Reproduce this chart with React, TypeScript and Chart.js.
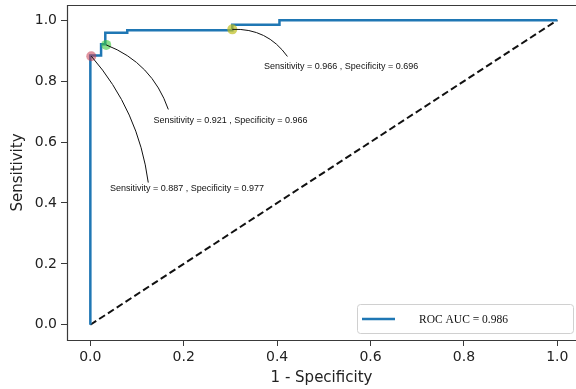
import React, { useEffect, useRef } from "react";
import { Chart, registerables } from "chart.js";

Chart.register(...registerables);

// ROC curve (false positive rate = 1 - specificity, true positive rate = sensitivity)
const fpr = [0, 0, 0.023, 0.023, 0.032, 0.032, 0.079, 0.079, 0.304, 0.304, 0.405, 0.405, 1];
const tpr = [0, 0.884, 0.884, 0.921, 0.921, 0.959, 0.959, 0.967, 0.967, 0.985, 0.985, 1, 1];
const rocLabel = "ROC AUC = 0.986";

// chance diagonal
const chanceX = [0, 1];
const chanceY = [0, 1];

// axis ticks
const xTicks = [0, 0.2, 0.4, 0.6, 0.8, 1.0];
const yTicks = [0, 0.2, 0.4, 0.6, 0.8, 1.0];

// highlighted operating points
const markerX = [0.002, 0.034, 0.304];
const markerY = [0.882, 0.919, 0.97];
const markerColors = ["rgba(200,60,80,0.55)", "rgba(60,200,60,0.6)", "rgba(190,190,30,0.7)"];

// annotations
const noteTexts = [
  "Sensitivity = 0.887 , Specificity = 0.977",
  "Sensitivity = 0.921 , Specificity = 0.966",
  "Sensitivity = 0.966 , Specificity = 0.696",
];
const noteTextX = [0.207, 0.3, 0.537];
const noteTextY = [0.447, 0.67, 0.849];
const noteEndX = [0.124, 0.167, 0.422];
const noteEndY = [0.467, 0.707, 0.881];
const noteRad = [0.15, 0.23, 0.27];

const frameColor = "#3a3a3a";
const textColor = "#222";

const framePlugin = {
  id: "frame",
  beforeDatasetsDraw(chart: any) {
    const { ctx, chartArea: a } = chart;
    ctx.save();
    ctx.strokeStyle = frameColor;
    ctx.lineWidth = 1.2;
    ctx.beginPath();
    ctx.moveTo(a.right + 2, a.top + 0.5);
    ctx.lineTo(a.left + 0.5, a.top + 0.5);
    ctx.lineTo(a.left + 0.5, a.bottom + 0.5);
    ctx.lineTo(a.right + 2, a.bottom + 0.5);
    ctx.stroke();
    ctx.restore();
  },
};

const notesPlugin = {
  id: "notes",
  afterDatasetsDraw(chart: any) {
    const { ctx } = chart;
    const xs = chart.scales.x;
    const ys = chart.scales.y;
    ctx.save();
    ctx.strokeStyle = "#111";
    ctx.lineWidth = 1;
    for (let i = 0; i < noteTexts.length; i++) {
      const x1 = xs.getPixelForValue(markerX[i]);
      const y1 = ys.getPixelForValue(markerY[i]);
      const x2 = xs.getPixelForValue(noteEndX[i]);
      const y2 = ys.getPixelForValue(noteEndY[i]);
      const dx = x2 - x1;
      const dy = y2 - y1;
      const cx = (x1 + x2) / 2 + noteRad[i] * dy;
      const cy = (y1 + y2) / 2 - noteRad[i] * dx;
      ctx.beginPath();
      ctx.moveTo(x1, y1);
      ctx.quadraticCurveTo(cx, cy, x2, y2);
      ctx.stroke();
    }
    ctx.fillStyle = "#111";
    ctx.font = '9px "Liberation Sans", Arial, sans-serif';
    ctx.textAlign = "center";
    ctx.textBaseline = "middle";
    for (let i = 0; i < noteTexts.length; i++) {
      ctx.fillText(noteTexts[i], xs.getPixelForValue(noteTextX[i]), ys.getPixelForValue(noteTextY[i]));
    }
    ctx.restore();
  },
};

const legendPlugin = {
  id: "boxLegend",
  afterDraw(chart: any) {
    const { ctx, chartArea: a } = chart;
    const ds = chart.data.datasets[0];
    const right = a.right - 3;
    const bottom = a.bottom - 7;
    const w = 216;
    const h = 29;
    const left = right - w;
    const top = bottom - h;
    ctx.save();
    ctx.fillStyle = "rgba(255,255,255,0.9)";
    ctx.strokeStyle = "#d0d0d0";
    ctx.lineWidth = 1;
    ctx.beginPath();
    (ctx as any).roundRect(left + 0.5, top + 0.5, w, h, 3);
    ctx.fill();
    ctx.stroke();
    ctx.strokeStyle = ds.borderColor;
    ctx.lineWidth = ds.borderWidth;
    ctx.beginPath();
    ctx.moveTo(left + 5, top + h / 2 + 0.5);
    ctx.lineTo(left + 38, top + h / 2 + 0.5);
    ctx.stroke();
    ctx.fillStyle = "#111";
    ctx.font = '11.5px "Liberation Serif", "Times New Roman", serif';
    ctx.textAlign = "left";
    ctx.textBaseline = "middle";
    ctx.fillText(ds.label, left + 62, top + h / 2 + 1);
    ctx.restore();
  },
};

export default function App() {
  const ref = useRef<HTMLCanvasElement | null>(null);

  useEffect(() => {
    if (!ref.current) return;
    const tickFont = { family: '"DejaVu Sans", sans-serif', size: 14 };
    const titleFont = { family: '"DejaVu Sans", sans-serif', size: 15 };
    const chart = new Chart(ref.current, {
      type: "scatter",
      data: {
        datasets: [
          {
            label: rocLabel,
            data: fpr.map((x, i) => ({ x, y: tpr[i] })),
            showLine: true,
            borderColor: "#1f77b4",
            borderWidth: 2.5,
            pointRadius: 0,
            order: 1,
          } as any,
          {
            label: "chance",
            data: chanceX.map((x, i) => ({ x, y: chanceY[i] })),
            showLine: true,
            borderColor: "#111",
            borderWidth: 2,
            borderDash: [7, 3.5],
            pointRadius: 0,
            order: 2,
          },
          {
            label: "points",
            data: markerX.map((x, i) => ({ x, y: markerY[i] })),
            pointRadius: 5,
            pointBorderWidth: 0,
            pointBackgroundColor: markerColors,
            backgroundColor: markerColors,
            borderColor: "transparent",
            order: 0,
          } as any,
        ],
      },
      options: {
        animation: false,
        responsive: false,
        events: [],
        layout: { autoPadding: false, padding: { top: 5, right: 0, left: 0, bottom: 0 } },
        plugins: {
          legend: { display: false },
          tooltip: { enabled: false },
        },
        scales: {
          x: {
            type: "linear",
            min: -0.05,
            max: 1.04,
            afterBuildTicks: (s: any) => {
              s.ticks = xTicks.map((v) => ({ value: v }));
            },
            afterFit: (s: any) => {
              s.height = 49;
              s.paddingLeft = 0;
              s.paddingRight = 0;
            },
            ticks: {
              font: tickFont,
              color: textColor,
              padding: 3,
              maxRotation: 0,
              callback: (v: any) => Number(v).toFixed(1),
            },
            grid: { drawOnChartArea: false, drawTicks: true, tickLength: 6, color: frameColor },
            border: { display: false },
            title: {
              display: true,
              text: "1 - Specificity",
              font: titleFont,
              color: textColor,
              padding: { top: 0, bottom: 2 },
            },
          },
          y: {
            type: "linear",
            min: -0.05,
            max: 1.05,
            afterBuildTicks: (s: any) => {
              s.ticks = yTicks.map((v) => ({ value: v }));
            },
            afterFit: (s: any) => {
              s.width = 67;
              s.paddingTop = 0;
              s.paddingBottom = 0;
            },
            ticks: {
              font: tickFont,
              color: textColor,
              padding: 4,
              callback: (v: any) => Number(v).toFixed(1),
            },
            grid: { drawOnChartArea: false, drawTicks: true, tickLength: 6, color: frameColor },
            border: { display: false },
            title: {
              display: true,
              text: "Sensitivity",
              font: titleFont,
              color: textColor,
              padding: { top: 9, bottom: 0 },
            },
          },
        },
      } as any,
      plugins: [framePlugin, notesPlugin, legendPlugin],
    });
    return () => chart.destroy();
  }, []);

  return (
    <div
      style={{
        position: "absolute",
        left: 0,
        top: 0,
        width: 576,
        height: 389,
        overflow: "hidden",
        background: "#fff",
      }}
    >
      <canvas ref={ref} width={576} height={389} style={{ display: "block" }} />
    </div>
  );
}
